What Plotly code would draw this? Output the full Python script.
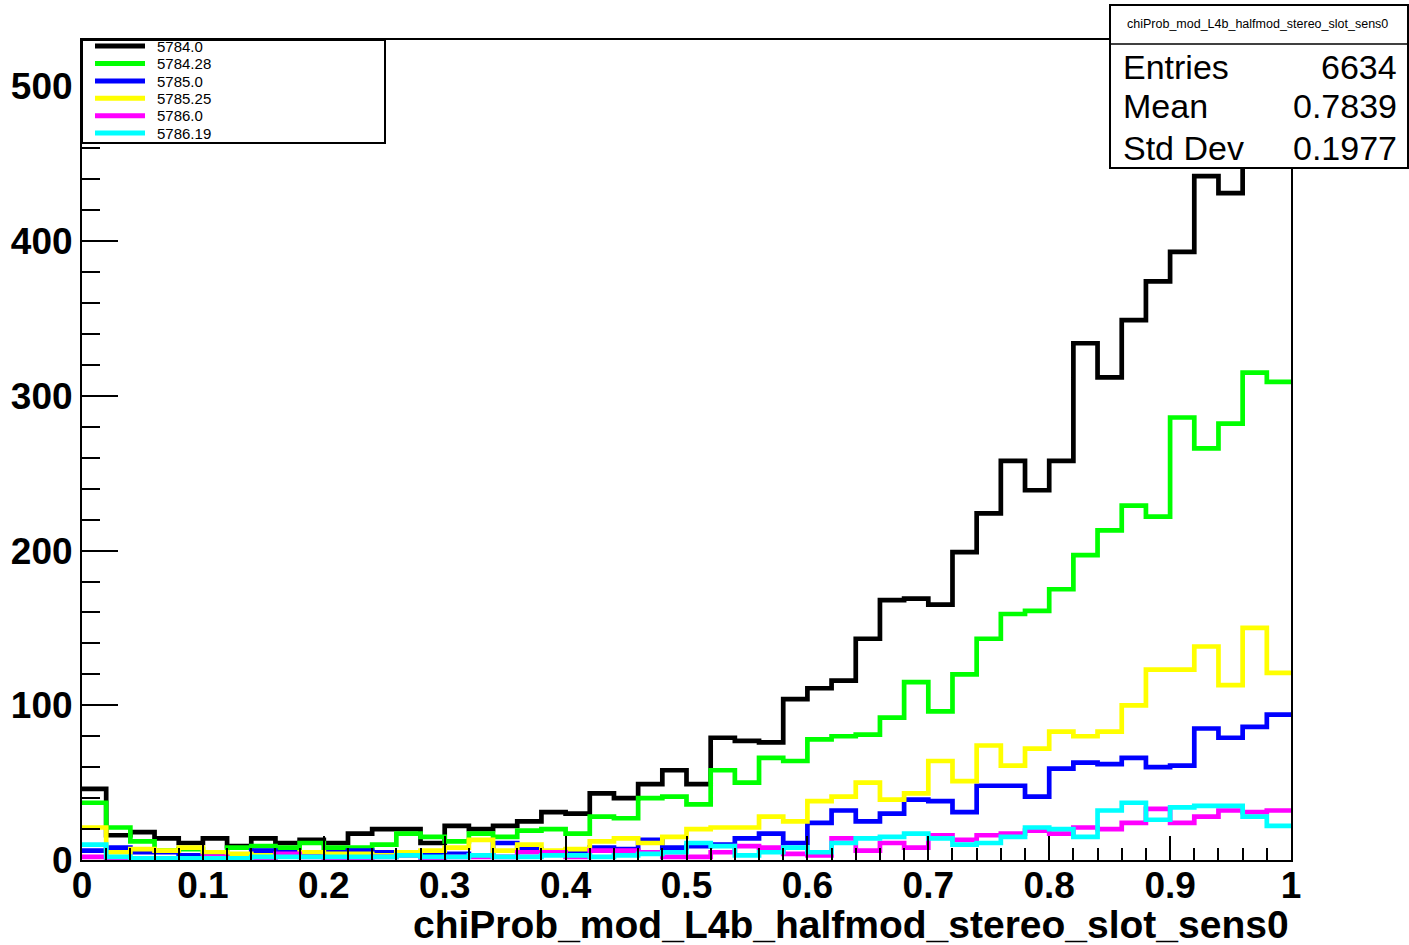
import numpy as np
import plotly.graph_objects as go

# ---------------- data ----------------
bin_edges = [round(i * 0.02, 2) for i in range(51)]

labels = ["5784.0", "5784.28", "5785.0", "5785.25", "5786.0", "5786.19"]
colors = ["#000000", "#00ff00", "#0000ff", "#ffff00", "#ff00ff", "#00ffff"]

h_5784_0 = [46, 16, 18, 14, 11, 14, 9, 14, 11, 13, 11, 17, 20, 20, 11, 22, 20, 22, 25, 31,
            30, 43, 40, 49, 58, 49, 79, 77, 76, 104, 111, 116, 143, 168, 169, 165, 199, 224, 258, 239,
            258, 334, 312, 349, 374, 393, 442, 431, 470, 505]
h_5784_28 = [37, 21, 12, 6, 7, 5, 8, 9, 8, 11, 8, 8, 10, 17, 15, 12, 17, 15, 19, 20,
             17, 28, 27, 40, 41, 36, 58, 50, 66, 64, 78, 80, 81, 92, 115, 96, 120, 143, 159, 161,
             175, 197, 213, 229, 222, 286, 266, 282, 315, 309]
h_5785_0 = [6, 8, 5, 5, 3, 3, 3, 6, 5, 4, 5, 6, 5, 5, 3, 4, 3, 11, 7, 5,
            6, 8, 7, 13, 8, 9, 10, 14, 17, 11, 24, 32, 25, 30, 39, 38, 31, 48, 48, 41,
            59, 63, 62, 66, 60, 61, 85, 79, 86, 94]
h_5785_25 = [21, 5, 7, 6, 8, 5, 4, 3, 3, 5, 4, 4, 3, 5, 6, 8, 13, 6, 10, 6,
             7, 12, 14, 11, 15, 20, 21, 21, 28, 25, 38, 41, 50, 39, 43, 64, 51, 74, 61, 72,
             83, 80, 83, 100, 123, 123, 138, 113, 150, 121]
h_5786_0 = [2, 1, 1, 1, 1, 2, 1, 1, 4, 2, 1, 1, 2, 3, 1, 2, 2, 2, 5, 5,
            2, 6, 6, 5, 2, 2, 5, 9, 8, 4, 3, 14, 6, 11, 8, 16, 13, 16, 17, 19,
            17, 21, 20, 24, 33, 24, 28, 32, 31, 32]
h_5786_19 = [10, 2, 1, 1, 1, 1, 1, 2, 2, 2, 2, 2, 2, 3, 2, 2, 3, 2, 2, 3,
             3, 2, 3, 4, 5, 11, 9, 3, 5, 8, 5, 11, 14, 15, 17, 14, 10, 11, 15, 21,
             20, 15, 32, 37, 26, 34, 35, 35, 28, 22]

series = [h_5784_0, h_5784_28, h_5785_0, h_5785_25, h_5786_0, h_5786_19]

hist_name = "chiProb_mod_L4b_halfmod_stereo_slot_sens0"
stats_rows = [("Entries", "6634"), ("Mean", "0.7839"), ("Std Dev", "0.1977")]

y_tick_vals = [0, 100, 200, 300, 400, 500]
x_tick_vals = [0, 0.1, 0.2, 0.3, 0.4, 0.5, 0.6, 0.7, 0.8, 0.9, 1]
x_tick_text = ["0", "0.1", "0.2", "0.3", "0.4", "0.5", "0.6", "0.7", "0.8", "0.9", "1"]

# ---------------- layout geometry (page pixels) ----------------
W, H = 1409, 945
L, R, T, B = 82, 1291, 40, 860
FONT = "Liberation Sans, Arial, Helvetica, sans-serif"


def px_x(p):
    return (p - L) / (R - L)


def px_y(p):
    return (B - p) / (B - T)


fig = go.Figure()
for lab, col, vals in zip(labels, colors, series):
    fig.add_trace(go.Scatter(
        x=bin_edges,
        y=list(vals) + [vals[-1]],
        mode="lines",
        line=dict(color=col, width=4.7, shape="hv"),
        name=lab,
        showlegend=False,
    ))

shapes = [
    # legend box
    dict(type="rect", xref="paper", yref="paper",
         x0=px_x(82), x1=px_x(385), y0=px_y(143), y1=px_y(40),
         line=dict(color="black", width=2), fillcolor="white", layer="above"),
    # stats box
    dict(type="rect", xref="paper", yref="paper",
         x0=px_x(1110), x1=px_x(1408), y0=px_y(168), y1=px_y(5),
         line=dict(color="black", width=2), fillcolor="white", layer="above"),
    dict(type="line", xref="paper", yref="paper",
         x0=px_x(1110), x1=px_x(1408), y0=px_y(44), y1=px_y(44),
         line=dict(color="black", width=1.5), layer="above"),
]

annotations = [
    dict(text=hist_name, xref="paper", yref="paper", x=px_x(1257), y=px_y(24),
         xanchor="center", yanchor="middle", showarrow=False,
         font=dict(family=FONT, size=12.5, color="black")),
    dict(text="<b>" + hist_name + "</b>", xref="paper", yref="paper",
         x=1.0, y=px_y(924), xanchor="right", yanchor="middle", showarrow=False,
         font=dict(family=FONT, size=39, color="black")),
]
for (k, v), yc in zip(stats_rows, [67, 106, 148]):
    annotations.append(dict(text=k, xref="paper", yref="paper", x=px_x(1121), y=px_y(yc),
                            xanchor="left", yanchor="middle", showarrow=False,
                            font=dict(family=FONT, size=34, color="black")))
    annotations.append(dict(text=v, xref="paper", yref="paper", x=px_x(1399), y=px_y(yc),
                            xanchor="right", yanchor="middle", showarrow=False,
                            font=dict(family=FONT, size=34, color="black")))

# legend drawn inside the legend box
leg_y = [46, 63.5, 81, 98.3, 115.7, 133]
for lab, col, yc in zip(labels, colors, leg_y):
    shapes.append(dict(type="line", xref="paper", yref="paper",
                       x0=px_x(95), x1=px_x(145), y0=px_y(yc), y1=px_y(yc),
                       line=dict(color=col, width=5), layer="above"))
    annotations.append(dict(text=lab, xref="paper", yref="paper", x=px_x(155), y=px_y(yc),
                            xanchor="left", yanchor="middle", showarrow=False,
                            font=dict(family=FONT, size=15, color="black")))

fig.update_layout(
    width=W, height=H, autosize=False,
    margin=dict(l=L, r=W - R, t=T, b=H - B, pad=0),
    paper_bgcolor="white", plot_bgcolor="white",
    font=dict(family=FONT, color="black"),
    showlegend=False,
    shapes=shapes,
    annotations=annotations,
    xaxis=dict(range=[0, 1], tickvals=x_tick_vals, ticktext=x_tick_text,
               ticks="inside", ticklen=24, tickwidth=1.5, tickcolor="black",
               minor=dict(dtick=0.02, ticks="inside", ticklen=12, tickwidth=1.5, tickcolor="black"),
               showline=True, linecolor="black", linewidth=2, mirror=True,
               showgrid=False, zeroline=False, ticklabelstandoff=-8,
               tickfont=dict(family=FONT, size=37, color="black", weight="bold")),
    yaxis=dict(range=[0, 530], tickvals=y_tick_vals,
               ticks="inside", ticklen=36, tickwidth=1.5, tickcolor="black",
               minor=dict(dtick=20, ticks="inside", ticklen=18, tickwidth=1.5, tickcolor="black"),
               showline=True, linecolor="black", linewidth=2, mirror=True,
               showgrid=False, zeroline=False,
               tickfont=dict(family=FONT, size=37, color="black", weight="bold")),
)

fig.write_html("out.html",
               config={"displayModeBar": False},
               post_script="document.body.style.margin='0';document.body.style.overflow='hidden';")
